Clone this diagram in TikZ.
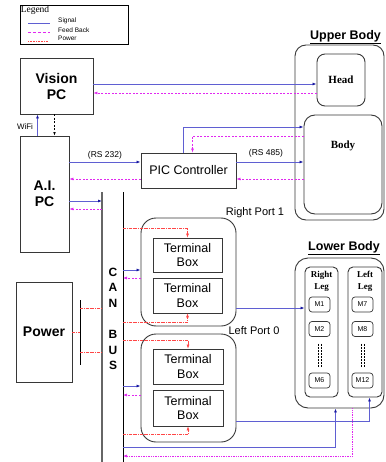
\documentclass[tikz,border=0pt]{standalone}
\usepackage{fontspec}
\setmainfont{Liberation Serif}
\setsansfont{Liberation Sans}
\usetikzlibrary{arrows.meta}
\definecolor{sigblue}{RGB}{95,95,210}
\definecolor{tipblue}{RGB}{25,25,160}
\definecolor{fbpink}{RGB}{225,40,240}
\definecolor{pwrred}{RGB}{255,70,70}
\definecolor{boxgray}{RGB}{55,55,55}
\tikzset{
  box/.style={draw=boxgray,line width=0.9pt,inner sep=0pt,align=center},
  rbox/.style={box,rounded corners=#1},
  rbox/.default=8pt,
  sig/.style={sigblue,line width=0.9pt,-{Latex[length=4pt,width=3pt,color=tipblue]}},
  fb/.style={fbpink,line width=0.6pt,dash pattern=on 2pt off 1.5pt,-{Latex[length=4pt,width=3pt]}},
  pwr/.style={pwrred,line width=0.5pt,dash pattern=on 3pt off 1pt on 0.6pt off 1pt,-{Latex[length=4pt,width=3pt]}},
  bigsf/.style={font=\fontsize{14}{16}\selectfont\sffamily\bfseries},
  midsf/.style={font=\fontsize{12.5}{14.5}\selectfont\sffamily},
  smallsf/.style={font=\fontsize{8.5}{10}\selectfont\sffamily},
  serb/.style={font=\fontsize{11}{12}\selectfont\bfseries},
}
\begin{document}
\begin{tikzpicture}[x=1pt,y=-1pt]
\useasboundingbox (0,0) rectangle (385,462);

% legend
\node[box,draw=black,minimum width=108pt,minimum height=39pt] (legend) at (74,24.5) {};
\node[anchor=north west,inner sep=1pt,font=\fontsize{9.5}{10}\selectfont] (legtitle) at (legend.north west) {Legend};
\coordinate (l1) at (28,23.5);
\coordinate (l2) at (28,32.5);
\coordinate (l3) at (28,41.5);
\draw[sigblue,line width=0.9pt] (l1) -- ++(22,0);
\draw[fbpink,line width=0.8pt,dash pattern=on 3pt off 2pt] (l2) -- ++(22,0);
\draw[pwrred,line width=0.7pt,dash pattern=on 0.8pt off 0.8pt] (l3) -- ++(20,0);
\node[anchor=west,inner sep=0pt,font=\fontsize{6.5}{7}\selectfont\sffamily] (lsig) at (58,21) {Signal};
\node[anchor=west,inner sep=0pt,font=\fontsize{6.5}{7}\selectfont\sffamily] (lfb) at (58,30) {Feed Back};
\node[anchor=west,inner sep=0pt,font=\fontsize{6.5}{7}\selectfont\sffamily] (lpwr) at (58,38.5) {Power};

% computers
\node[box,bigsf,minimum width=73pt,minimum height=56pt] (vision) at (56.5,86) {Vision\\PC};
\node[box,bigsf,minimum width=49pt,minimum height=116pt] (aipc) at (44.5,194) {A.I.\\PC};
\node[box,midsf,minimum width=95pt,minimum height=35pt] (pic) at (188.5,170.5) {PIC Controller};
\node[box,bigsf,minimum width=56pt,minimum height=100pt] (power) at (44,332) {Power};

% upper body
\node[font=\fontsize{12.5}{14}\selectfont\sffamily\bfseries] (uplbl) at (345.5,37) {\underline{Upper Body}};
\node[rbox=11pt,minimum width=89pt,minimum height=175pt] (upper) at (339.5,132.5) {};
\node[rbox,serb,minimum width=48pt,minimum height=52pt] (head) at (341,80) {Head};
\node[rbox=11pt,minimum width=78pt,minimum height=99pt] (body) at (343,164.5) {};
\node[serb] (bodylbl) at (343,146) {Body};

% CAN bus
\coordinate (canL) at (102,192);
\coordinate (canR) at (123,192);
\draw[gray!80!black,line width=1.1pt] (canL) -- (102,462);
\draw[black,line width=0.8pt] (canR) -- (123,462);
\node[font=\fontsize{12}{15.5}\selectfont\sffamily\bfseries,align=center] (can1) at (113,287.5) {C\\A\\N};
\node[font=\fontsize{12}{15.5}\selectfont\sffamily\bfseries,align=center] (can2) at (113,350) {B\\U\\S};

% power bus
\coordinate (pbus) at (80,300);
\draw[black,line width=0.8pt] (pbus) -- (80,365);

% ports
\node[rbox=15pt,minimum width=95pt,minimum height=108pt] (rport) at (188.5,272) {};
\node[font=\fontsize{11}{12}\selectfont\sffamily] (rportlbl) at (255,213) {Right Port 1};
\node[box,midsf,minimum width=69pt,minimum height=34pt] (tb1) at (187.5,255) {Terminal\\Box};
\node[box,midsf,minimum width=69pt,minimum height=35pt] (tb2) at (187.5,295.5) {Terminal\\Box};
\node[rbox=15pt,minimum width=95pt,minimum height=108pt] (lport) at (188.5,388) {};
\node[font=\fontsize{11}{12}\selectfont\sffamily] (lportlbl) at (254,331) {Left Port 0};
\node[box,midsf,minimum width=70pt,minimum height=35pt] (tb3) at (188,366.5) {Terminal\\Box};
\node[box,midsf,minimum width=70pt,minimum height=36pt] (tb4) at (188,408) {Terminal\\Box};

% lower body
\node[font=\fontsize{12.5}{14}\selectfont\sffamily\bfseries] (lowlbl) at (344,248) {\underline{Lower Body}};
\node[rbox=13pt,minimum width=89pt,minimum height=150pt] (lower) at (339.5,333) {};
\node[rbox=5pt,minimum width=33pt,minimum height=130pt] (rleg) at (321.5,332) {};
\node[rbox=5pt,minimum width=34pt,minimum height=130pt] (lleg) at (365,332) {};
\node[font=\fontsize{9}{12}\selectfont\bfseries,align=center] (rleglbl) at (321.5,281) {Right\\Leg};
\node[font=\fontsize{9}{12}\selectfont\bfseries,align=center] (lleglbl) at (365,281) {Left\\Leg};
\foreach \nm/\lb/\xx/\yy in {m1/M1/319.5/304.5, m2/M2/319.5/329, m6/M6/319.5/380.5,
                          m7/M7/362.5/304.5, m8/M8/362.5/329, m12/M12/362.5/380.5}
  \node[rbox=3pt,line width=0.7pt,font=\fontsize{7}{8}\selectfont\sffamily,minimum width=21pt,minimum height=15pt] (\nm) at (\xx,\yy) {\lb};
\foreach \dx in {-1.5,1.5} {
  \draw[black,line width=0.5pt,densely dotted] ([xshift=\dx pt,yshift=-7pt]m2.south) -- ([xshift=\dx pt,yshift=6pt]m6.north);
  \draw[black,line width=0.5pt,densely dotted] ([xshift=\dx pt,yshift=-7pt]m8.south) -- ([xshift=\dx pt,yshift=6pt]m12.north);
}

% vision <-> head, wifi
\coordinate (wifiup) at (37.5,0);
\coordinate (wifidn) at (54.5,0);
\draw[sig] (vision.east |- 0,84) -- (head.west |- 0,84);
\draw[fb] (head.west |- 0,93) -- (vision.east |- 0,93);
\draw[sig] (aipc.north -| wifiup) -- (vision.south -| wifiup);
\draw[black,line width=0.5pt,dash pattern=on 2pt off 1.5pt,-{Latex[length=3.5pt,width=2.5pt]}] (vision.south -| wifidn) -- (aipc.north -| wifidn);
\node[font=\fontsize{8}{9}\selectfont\sffamily] (wifi) at (25,127) {WiFi};

% A.I. PC <-> PIC
\draw[sig] (aipc.east |- 0,162) -- (pic.west |- 0,162);
\draw[fb] (pic.west |- 0,179) -- (aipc.east |- 0,179);
\node[smallsf] (rs232) at (105,155) {(RS 232)};

% PIC <-> body
\draw[sig] (pic.north -| 183.5,0) |- (body.west |- 0,127);
\draw[fb] (body.west |- 0,136) -| (pic.north -| 192.5,0);
\draw[sig] (pic.east |- 0,162) -- (body.west |- 0,162);
\draw[fb] (body.west |- 0,179) -- (pic.east |- 0,179);
\node[smallsf] (rs485) at (266,153) {(RS 485)};

% A.I. PC <-> CAN
\draw[sig] (aipc.east |- 0,201) -- (canL |- 0,201);
\draw[fb] (canL |- 0,209) -- (aipc.east |- 0,209);

% power supply
\draw[pwr,-] (power.east |- 0,332) -- (pbus |- 0,332);
\draw[pwr,-] (pbus |- 0,308) -- (canL |- 0,308);
\draw[pwr,-] (pbus |- 0,352) -- (canL |- 0,352);
\draw[pwr] (canR |- 0,228) -| (tb1.north);
\draw[pwr] (canR |- 0,322) -| (tb2.south);
\draw[pwr] (canR |- 0,340) -| (tb3.north);
\draw[pwr] (canR |- 0,434) -| (tb4.south);

% CAN <-> ports
\draw[sig] (canR |- 0,270) -- (rport.west |- 0,270);
\draw[fb] (rport.west |- 0,278) -- (canR |- 0,278);
\draw[sig] (canR |- 0,386) -- (lport.west |- 0,386);
\draw[fb] (lport.west |- 0,395) -- (canR |- 0,395);

% ports -> legs
\draw[sig] (rport.east |- 0,308) -- (rleg.west |- 0,308);
\draw[sig] (lport.east |- 0,421) -| (lleg.south -| 369.5,0);
\draw[sig] (canR |- 0,447) -| (lower.south -| 335.5,0);
\draw[fbpink,line width=0.7pt,densely dotted,-{Latex[length=4pt,width=3pt]}] (lower.south -| 352.5,0) |- (canR |- 0,456);
\end{tikzpicture}
\end{document}
